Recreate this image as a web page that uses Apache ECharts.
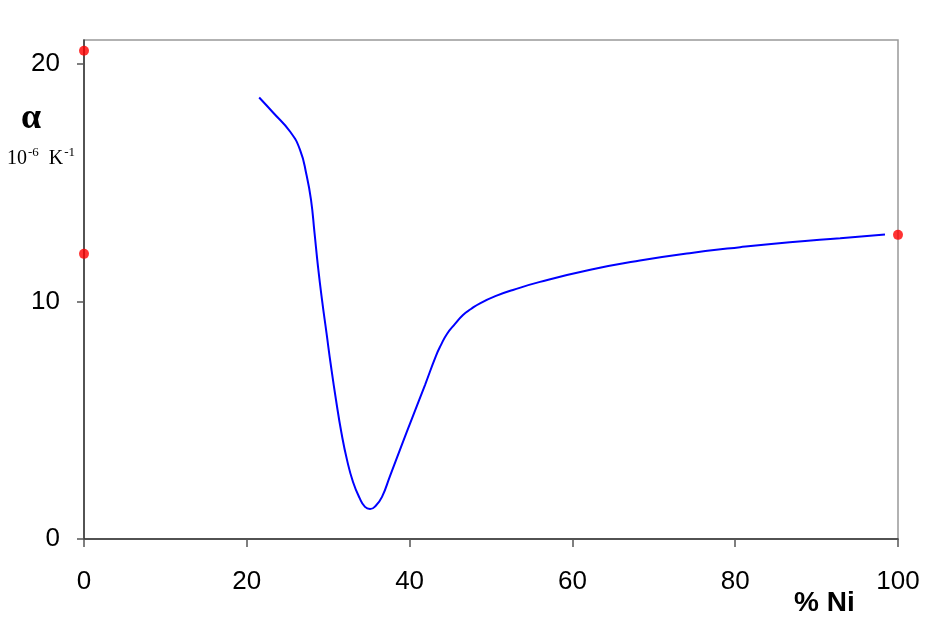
<!DOCTYPE html>
<html><head><meta charset="utf-8">
<script src="https://cdn.jsdelivr.net/npm/echarts@6/dist/echarts.min.js"></script>
<style>html,body{margin:0;padding:0;background:#fff}#c{width:928px;height:629px}</style>
</head><body><div id="c"></div>
<script>
const nickelPct = [21.52,23.25,25.31,26.54,27.33,27.89,28.32,28.75,29.24,29.79,30.34,30.96,31.63,32.31,33.05,33.85,34.52,35.14,35.87,36.61,37.59,38.94,40.42,41.89,43.24,43.86,44.59,45.58,46.56,47.54,48.65,50.61,52.7,56.02,62.2,68.3,74.4,80.6,86.7,92.9,98.4];
const alphaVals = [18.58,17.94,17.15,16.38,15.33,14.27,12.88,11.45,10.06,8.67,7.28,5.85,4.46,3.33,2.4,1.73,1.35,1.26,1.41,1.77,2.65,3.87,5.18,6.48,7.71,8.17,8.63,9.05,9.43,9.68,9.92,10.23,10.48,10.82,11.33,11.72,12.03,12.28,12.49,12.66,12.81];
const pureX = [0,0,100];
const pureY = [20.55,12.0,12.8];
const xTicks = [0,20,40,60,80,100];
const yTicks = [0,10,20];

const chart = echarts.init(document.getElementById('c'));
const font = '"Liberation Sans", Arial, sans-serif';
chart.setOption({
  animation:false,
  backgroundColor:'#fff',
  grid:{left:84,right:30,top:40,bottom:90,show:true,borderColor:'#999',borderWidth:1.5},
  xAxis:{type:'value',min:0,max:100,interval:20,
    axisLine:{show:true,onZero:false,lineStyle:{color:'#333',width:1.5}},
    axisTick:{show:true,length:8,lineStyle:{color:'#555',width:1.5},customValues:xTicks},
    axisLabel:{margin:30,fontSize:26,color:'#000',fontFamily:font,customValues:xTicks},
    splitLine:{show:false}},
  yAxis:{type:'value',min:0,max:21,interval:10,
    axisLine:{show:true,onZero:false,lineStyle:{color:'#333',width:1.5}},
    axisTick:{show:true,length:7,lineStyle:{color:'#555',width:1.5},customValues:yTicks},
    axisLabel:{margin:24,fontSize:26,color:'#000',fontFamily:font,customValues:yTicks},
    splitLine:{show:false}},
  graphic:[
    {type:'text',left:794,top:589,style:{text:'% Ni',font:'bold 28px "Liberation Sans", Arial, sans-serif',fill:'#000'}},
    {type:'text',left:21,top:101,style:{text:'α',font:'bold 36px "Liberation Serif", "Times New Roman", serif',fill:'#000'}},
    {type:'text',left:7,top:146,style:{
      text:'{n|10}{s|-6}{n|  K}{s|-1}',
      rich:{
        n:{fontFamily:'"Liberation Serif", serif',fontSize:20,fill:'#000',verticalAlign:'bottom'},
        s:{fontFamily:'"Liberation Serif", serif',fontSize:13,fill:'#000',verticalAlign:'top',padding:[0,0,10,1]}
      }}}
  ],
  series:[
    {type:'line',data:nickelPct.map((x,i)=>[x,alphaVals[i]]),smooth:0.5,showSymbol:false,
     lineStyle:{color:'#0000ff',width:2},z:3},
    {type:'scatter',data:pureX.map((x,i)=>[x,pureY[i]]),symbolSize:10,itemStyle:{color:'#ff0000'},clip:false,z:5}
  ]
});
</script></body></html>
